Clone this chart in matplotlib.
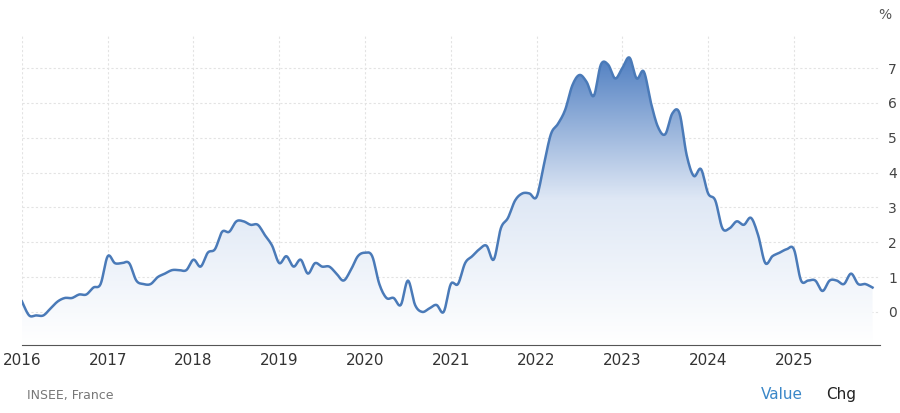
import numpy as np
import matplotlib
matplotlib.use("Agg")
import matplotlib.pyplot as plt
from matplotlib.patches import Polygon
from matplotlib.colors import LinearSegmentedColormap

years = list(range(2016, 2026))
values = [
 0.3,-0.1,-0.1,-0.1,0.1,0.3,0.4,0.4,0.5,0.5,0.7,0.8,
 1.6,1.4,1.4,1.4,0.9,0.8,0.8,1.0,1.1,1.2,1.2,1.2,
 1.5,1.3,1.7,1.8,2.3,2.3,2.6,2.6,2.5,2.5,2.2,1.9,
 1.4,1.6,1.3,1.5,1.1,1.4,1.3,1.3,1.1,0.9,1.2,1.6,
 1.7,1.6,0.8,0.4,0.4,0.2,0.9,0.2,0.0,0.1,0.2,0.0,
 0.8,0.8,1.4,1.6,1.8,1.9,1.5,2.4,2.7,3.2,3.4,3.4,
 3.3,4.2,5.1,5.4,5.8,6.5,6.8,6.6,6.2,7.1,7.1,6.7,
 7.0,7.3,6.7,6.9,6.0,5.3,5.1,5.7,5.7,4.5,3.9,4.1,
 3.4,3.2,2.4,2.4,2.6,2.5,2.7,2.2,1.4,1.6,1.7,1.8,
 1.8,0.9,0.9,0.9,0.6,0.9,0.9,0.8,1.1,0.8,0.8,0.7]
yticks = [0, 1, 2, 3, 4, 5, 6, 7]

x = 2016 + np.arange(len(values)) / 12.0
y = np.array(values)

# smooth rendering of the line (Catmull-Rom through the data points)
def catmull(xp, yp, n=8):
    P = np.column_stack([xp, yp])
    P = np.vstack([P[0], P, P[-1]])
    out = []
    t = np.linspace(0, 1, n, endpoint=False)[:, None]
    for i in range(1, len(P) - 2):
        p0, p1, p2, p3 = P[i-1], P[i], P[i+1], P[i+2]
        seg = 0.5 * ((2*p1) + (-p0 + p2)*t + (2*p0 - 5*p1 + 4*p2 - p3)*t**2 + (-p0 + 3*p1 - 3*p2 + p3)*t**3)
        out.append(seg)
    out.append(P[-2][None, :])
    out = np.vstack(out)
    return out[:, 0], out[:, 1]

xs, ys = catmull(x, y)

fig = plt.figure(figsize=(9, 4.13), dpi=100)
ax = fig.add_axes([0.0244, 0.1646, 0.953, 0.75])
ymin, ymax = -0.95, 7.94
ax.set_xlim(2016, 2026.0)
ax.set_ylim(ymin, ymax)

grad = np.linspace(0, 1, 256).reshape(-1, 1)
cmap = LinearSegmentedColormap.from_list("g", ["#ffffff", "#dfe8f5", "#4f7ec1"])
im = ax.imshow(grad, extent=[2016, 2026, ymin, 7.4], origin="lower",
               aspect="auto", cmap=cmap, vmin=0, vmax=1, zorder=1)
poly = Polygon(np.column_stack([np.r_[xs[0], xs, xs[-1]], np.r_[ymin, ys, ymin]]),
               closed=True, transform=ax.transData, facecolor="none", edgecolor="none")
ax.add_patch(poly)
im.set_clip_path(poly)
ax.plot(xs, ys, color="#4a7ab8", lw=1.8, zorder=3)

ax.set_xticks(years)
ax.set_xticklabels([str(v) for v in years], fontsize=11, color="#333333")
ax.set_yticks(yticks)
ax.yaxis.tick_right()
ax.set_yticklabels([str(v) for v in yticks], fontsize=10, color="#444444")
ax.tick_params(axis="both", length=0, pad=6)
ax.grid(True, color="#e3e3e3", lw=0.8, linestyle=(0, (2, 2)), zorder=0)
for s in ["top", "right", "left"]:
    ax.spines[s].set_visible(False)
ax.spines["bottom"].set_color("#555555")
ax.set_axisbelow(True)

fig.text(0.976, 0.955, "%", fontsize=10, color="#555555", ha="left")
fig.text(0.030, 0.035, "INSEE, France", fontsize=9, color="#777777")
fig.text(0.845, 0.033, "Value", fontsize=11, color="#3a87c8")
fig.text(0.918, 0.033, "Chg", fontsize=11, color="#222222")

fig.savefig("out.png", dpi=100)
